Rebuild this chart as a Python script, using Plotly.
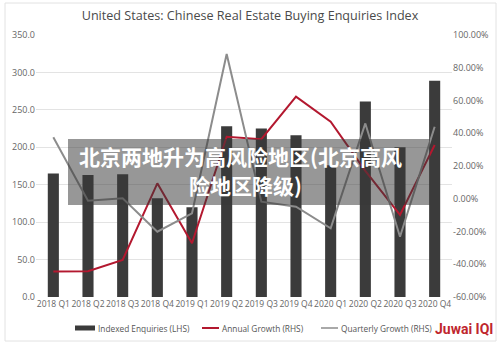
import plotly.graph_objects as go

# Quarterly index of Chinese buyer enquiries for US real estate
quarters = ["2018 Q1", "2018 Q2", "2018 Q3", "2018 Q4",
            "2019 Q1", "2019 Q2", "2019 Q3", "2019 Q4",
            "2020 Q1", "2020 Q2", "2020 Q3", "2020 Q4"]
enquiries = [165, 163, 164, 132, 120, 228, 225, 216, 176, 261, 200, 289]
annual_growth = [-44.5, -44.3, -37.4, 9.4, -27.2, 37.9, 36.4, 62.3, 47.0, 17.0, -9.9, 32.8]
quarterly_growth = [37.5, -1.2, 0.3, -20.1, -8.9, 88.4, -1.8, -4.9, -18.0, 46.0, -23.2, 44.0]

left_ticks = [0, 50, 100, 150, 200, 250, 300, 350]
right_ticks = [-60, -40, -20, 0, 20, 40, 60, 80, 100]
right_labels = ["-60.00%", "-40.00%", "-20.00%", "0.00%", "20.00%",
                "40.00%", "60.00%", "80.00%", "100.00%"]

FONT = "Open Sans"
TICK_FONT = dict(family=FONT, size=9, color="#666666")

BAR_COLOR = "#3b3b3b"
ANNUAL_COLOR = "#b3182f"
QUARTER_COLOR = "#8c8c8c"
series_names = ["Indexed Enquiries (LHS)", "Annual Growth (RHS)", "Quarterly Growth (RHS)"]

fig = go.Figure()
fig.add_trace(go.Bar(
    x=quarters, y=enquiries, name=series_names[0],
    marker=dict(color=BAR_COLOR, line=dict(width=0)), yaxis="y",
))
fig.add_trace(go.Scatter(
    x=quarters, y=annual_growth, name=series_names[1], mode="lines",
    line=dict(color=ANNUAL_COLOR, width=2), yaxis="y2",
))
fig.add_trace(go.Scatter(
    x=quarters, y=quarterly_growth, name=series_names[2], mode="lines",
    line=dict(color=QUARTER_COLOR, width=2), yaxis="y2",
))

W, H = 500, 345
ml, mr, mt, mb = 36, 48, 35, 48
pw, ph = W - ml - mr, H - mt - mb


def px_x(x):
    return (x - ml) / pw


def px_y(y):
    return (H - mb - y) / ph


fig.update_layout(
    width=W, height=H,
    margin=dict(l=ml, r=mr, t=mt, b=mb, pad=0, autoexpand=False),
    paper_bgcolor="white", plot_bgcolor="white",
    bargap=0.68,
    showlegend=False,
    title=dict(
        text="United States: Chinese Real Estate Buying Enquiries Index",
        x=0.5, xref="container", xanchor="center",
        y=1 - 16 / H, yref="container", yanchor="middle",
        font=dict(family=FONT, size=12.6, color="#4a4a4a"),
    ),
    xaxis=dict(
        type="category", showgrid=False, zeroline=False, showline=False,
        ticks="", tickfont=dict(family=FONT, size=8.5, color="#666666"),
        tickangle=0,
    ),
    yaxis=dict(
        range=[0, 350], tickvals=left_ticks, tickformat=".1f",
        showgrid=True, gridcolor="#e3e3e3", gridwidth=1,
        zeroline=False, showline=False, ticks="", tickfont=TICK_FONT,
    ),
    yaxis2=dict(
        range=[-60, 100], overlaying="y", side="right",
        tickvals=right_ticks, ticktext=right_labels,
        showgrid=False, zeroline=False, showline=False, ticks="",
        tickfont=TICK_FONT,
    ),
)

# thin frame around the whole graphic
fig.add_shape(
    type="rect", xref="paper", yref="paper",
    x0=px_x(5), x1=px_x(496), y0=px_y(341), y1=px_y(3),
    line=dict(color="#e2e2e2", width=1), fillcolor="rgba(0,0,0,0)",
    layer="below",
)

# legend row beneath the axis: swatch + label for each series
LEG_Y = 328
LEG_FONT = dict(family=FONT, size=8.3, color="#555555")
fig.add_shape(
    type="rect", xref="paper", yref="paper",
    x0=px_x(75), x1=px_x(95), y0=px_y(330.5), y1=px_y(325.5),
    line=dict(width=0), fillcolor=BAR_COLOR,
)
fig.add_shape(
    type="line", xref="paper", yref="paper",
    x0=px_x(202), x1=px_x(219), y0=px_y(LEG_Y), y1=px_y(LEG_Y),
    line=dict(color=ANNUAL_COLOR, width=2),
)
fig.add_shape(
    type="line", xref="paper", yref="paper",
    x0=px_x(321), x1=px_x(338), y0=px_y(LEG_Y), y1=px_y(LEG_Y),
    line=dict(color=QUARTER_COLOR, width=1.5),
)
for name, left in zip(series_names, [96, 220, 339]):
    fig.add_annotation(
        text=name, xref="paper", yref="paper",
        x=px_x(left), y=px_y(LEG_Y), xanchor="left", yanchor="middle",
        showarrow=False, font=LEG_FONT,
    )

# translucent caption banner across the middle of the chart
fig.add_shape(
    type="rect", xref="paper", yref="paper",
    x0=px_x(68), x1=px_x(430), y0=px_y(205), y1=px_y(139),
    line=dict(width=0), fillcolor="rgba(55,55,55,0.52)", layer="above",
)
CJK = dict(family="Noto Sans CJK SC", size=21, color="white")
fig.add_annotation(
    text="<b>北京两地升为高风险地区(北京高风</b>", xref="paper", yref="paper",
    x=px_x(240), y=px_y(156), xanchor="center", yanchor="middle",
    showarrow=False, font=CJK,
)
fig.add_annotation(
    text="<b>险地区降级)</b>", xref="paper", yref="paper",
    x=px_x(245), y=px_y(185), xanchor="center", yanchor="middle",
    showarrow=False, font=CJK,
)

# brand mark
fig.add_annotation(
    text="<b>Juwai IQI</b>", xref="paper", yref="paper",
    x=px_x(464), y=px_y(329), xanchor="center", yanchor="middle",
    showarrow=False, font=dict(family="Roboto", size=14, color="#c0262d"),
)

fig.write_html("out.html")
